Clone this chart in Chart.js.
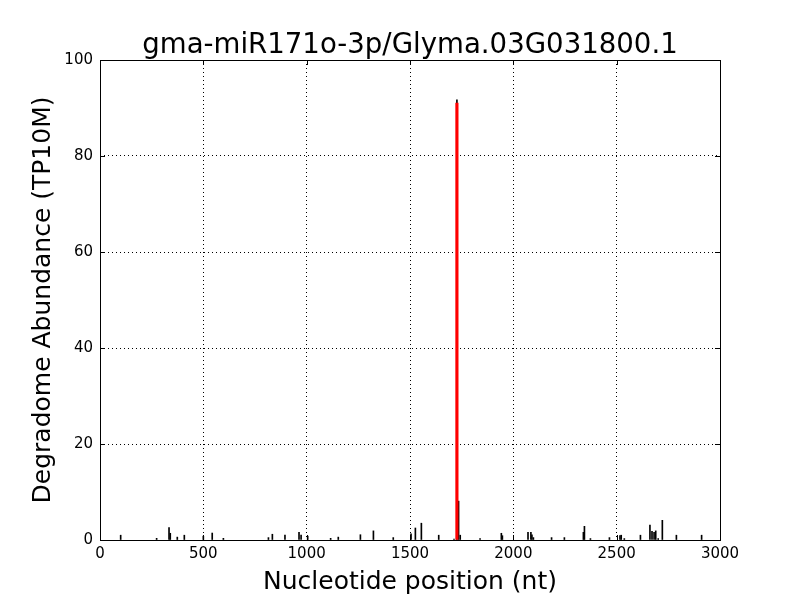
<!DOCTYPE html>
<html>
<head>
<meta charset="utf-8">
<script src="https://cdn.jsdelivr.net/npm/chart.js@4"></script>
<style>
  html, body { margin: 0; padding: 0; background: #fff; }
  #wrap { width: 800px; height: 600px; }
</style>
</head>
<body>
<div id="wrap"><canvas id="chartContainer" width="800" height="600"></canvas></div>
<script>
// 読み取ったデータ
const titleText = 'gma-miR171o-3p/Glyma.03G031800.1';

// 分解産物のピーク位置 (nt) と存在量 (TP10M)
const peakPositions = [100, 274, 334, 340, 374, 408, 500, 543, 597, 815, 834, 895, 963, 973, 1005,
    1116, 1153, 1260, 1323, 1419, 1505, 1526, 1555, 1639, 1713, 1727, 1735, 1743, 1839, 1942, 1947,
    2071, 2085, 2090, 2097, 2185, 2247, 2339, 2344, 2373, 2465, 2516, 2522, 2537, 2615, 2661, 2671,
    2681, 2689, 2701, 2721, 2789, 2911];
const peakValues = [1.0, 0.35, 2.6, 1.4, 0.6, 1.0, 0.8, 1.45, 0.35, 0.5, 1.2, 1.0, 1.6, 1.0, 0.8,
    0.35, 0.6, 1.1, 1.9, 0.5, 1.3, 2.5, 3.5, 1.0, 0.2, 91.7, 8.1, 1.0, 0.3, 1.4, 0.9,
    1.6, 1.6, 1.1, 0.5, 0.5, 0.5, 1.6, 2.85, 0.3, 0.5, 0.9, 1.0, 0.3, 1.0, 3.1, 1.8,
    1.6, 1.9, 0.3, 4.1, 1.0, 1.0];

// 切断部位 (赤線)
const cleavagePositions = [1727];
const cleavageValues = [91.0];

// 目盛り
const xTicks = [0, 500, 1000, 1500, 2000, 2500, 3000];
const yTicks = [0, 20, 40, 60, 80, 100];

const fontFamily = '"DejaVu Sans", sans-serif';

// 内向きの目盛り・枠線・タイトル
const frameTicks = {
    id: 'frameTicks',
    afterDraw(chart) {
        const { ctx, chartArea: a, scales } = chart;
        ctx.save();
        ctx.strokeStyle = '#000';
        ctx.lineWidth = 1;
        ctx.beginPath();
        xTicks.forEach(v => {
            const x = Math.round(scales.x.getPixelForValue(v)) + 0.5;
            ctx.moveTo(x, a.bottom); ctx.lineTo(x, a.bottom - 5);
            ctx.moveTo(x, a.top); ctx.lineTo(x, a.top + 5);
        });
        yTicks.forEach(v => {
            const y = Math.round(scales.y.getPixelForValue(v)) + 0.5;
            ctx.moveTo(a.left, y); ctx.lineTo(a.left + 5, y);
            ctx.moveTo(a.right, y); ctx.lineTo(a.right - 5, y);
        });
        ctx.stroke();
        ctx.strokeRect(Math.round(a.left) + 0.5, Math.round(a.top) + 0.5,
            Math.round(a.right - a.left), Math.round(a.bottom - a.top));

        // タイトル
        ctx.fillStyle = '#000';
        ctx.font = '27.6px ' + fontFamily;
        ctx.textAlign = 'center';
        ctx.textBaseline = 'alphabetic';
        ctx.fillText(titleText, (a.left + a.right) / 2, 53);
        ctx.restore();
    }
};

function toPoints(xs, ys) {
    return xs.map((x, i) => ({ x: x, y: ys[i] }));
}

const ctx = document.getElementById('chartContainer').getContext('2d');
const chart = new Chart(ctx, {
    type: 'bar',
    data: {
        datasets: [
            {
                label: 'degradome',
                data: toPoints(peakPositions, peakValues),
                backgroundColor: '#000',
                borderWidth: 0,
                barThickness: 1,
                grouped: false,
                order: 2
            },
            {
                label: 'cleavage',
                data: toPoints(cleavagePositions, cleavageValues),
                backgroundColor: '#ff0000',
                borderWidth: 0,
                barThickness: 2.5,
                grouped: false,
                order: 1
            }
        ]
    },
    plugins: [frameTicks],
    options: {
        responsive: false,
        animation: false,
        layout: { padding: { left: 0, right: 80, top: 60, bottom: 0 } },
        scales: {
            x: {
                type: 'linear',
                min: 0,
                max: 3000,
                offset: false,
                afterFit(scale) { scale.height = 60; },
                ticks: {
                    stepSize: 500,
                    color: '#000',
                    padding: 5,
                    maxRotation: 0,
                    font: { family: fontFamily, size: 15 },
                    callback: v => String(v)
                },
                grid: { color: '#000', lineWidth: 1, drawTicks: false, offset: false },
                border: { display: false, dash: [1, 3] },
                title: {
                    display: true,
                    text: 'Nucleotide position (nt)',
                    color: '#000',
                    font: { family: fontFamily, size: 25 },
                    padding: { top: 0, bottom: 3 }
                }
            },
            y: {
                type: 'linear',
                min: 0,
                max: 100,
                afterFit(scale) { scale.width = 100; },
                ticks: {
                    stepSize: 20,
                    color: '#000',
                    padding: 7,
                    font: { family: fontFamily, size: 15 },
                    callback: v => String(v)
                },
                grid: { color: '#000', lineWidth: 1, drawTicks: false, offset: false },
                border: { display: false, dash: [1, 3] },
                title: {
                    display: true,
                    text: 'Degradome Abundance (TP10M)',
                    color: '#000',
                    font: { family: fontFamily, size: 25 },
                    padding: { top: 28, bottom: 0 }
                }
            }
        },
        plugins: {
            legend: { display: false },
            tooltip: { enabled: false },
            title: { display: false }
        }
    }
});
</script>
</body>
</html>
